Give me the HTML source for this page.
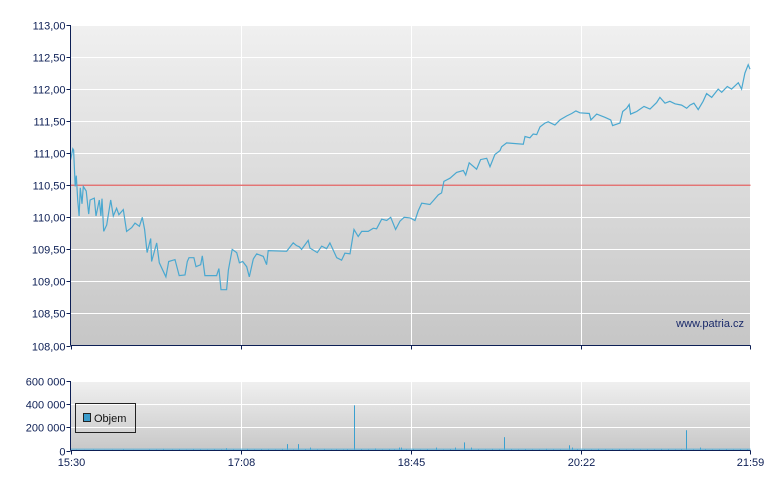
<!DOCTYPE html>
<html><head><meta charset="utf-8"><style>
body{margin:0;background:#fff;}
svg{display:block;font-family:"Liberation Sans",sans-serif;}
</style></head><body>
<svg id="c" width="780" height="490" viewBox="0 0 780 490">
<defs>
<linearGradient id="g1" x1="0" y1="0" x2="0" y2="1"><stop offset="0" stop-color="#f0f0f0"/><stop offset="1" stop-color="#c6c6c6"/></linearGradient>
<linearGradient id="g2" x1="0" y1="0" x2="0" y2="1"><stop offset="0" stop-color="#f0f0f0"/><stop offset="1" stop-color="#c8c8c8"/></linearGradient>
</defs>
<rect x="71" y="25" width="679" height="321" fill="url(#g1)"/>
<rect x="71" y="381" width="679" height="69" fill="url(#g2)"/>
<g id="grid"></g>
<line id="ref" stroke="#e06060" stroke-width="1.2"/>
<polyline id="price" fill="none" stroke="#4aa8d0" stroke-width="1.2"/>
<g id="vol"></g>
<g id="axes"></g>
<text x="744" y="327" text-anchor="end" font-size="11" fill="#1a2a6a">www.patria.cz</text>
<g>
<rect x="75.5" y="403.5" width="60" height="29" fill="none" stroke="#222" stroke-width="1"/>
<rect x="83.5" y="413.5" width="7" height="8" fill="#3a9ccc" stroke="#222" stroke-width="1"/>
<text x="94" y="422" font-size="11" fill="#111">Objem</text>
</g>
</svg>
<script>
const xTicks=["15:30","17:08","18:45","20:22","21:59"];
const yTicks=[108,108.5,109,109.5,110,110.5,111,111.5,112,112.5,113];
const vTicks=[0,200000,400000,600000];
const refPrice=110.5;
const priceMin=[0.1,1.3,1.8,2.7,3.3,4.1,4.9,5.6,6.6,7.3,9.0,10.4,11.2,13.6,14.6,16.5,17.4,18.0,19.0,20.7,23.0,24.5,26.4,27.7,30.2,32.1,35.0,36.9,39.4,41.1,42.4,43.8,45.9,46.4,49.3,50.8,54.6,56.2,59.8,62.2,65.5,66.8,67.8,70.6,71.8,74.5,75.4,76.9,83.6,84.9,86.1,89.3,90.3,92.5,95.1,96.6,98.5,100.8,102.3,104.6,106.5,110.3,112.2,113.1,123.7,126.5,127.4,129.2,130.9,132.2,136.0,137.0,141.2,143.7,146.5,148.4,152.3,155.1,157.0,159.9,162.2,164.6,166.6,170.3,173.2,175.1,178.0,180.9,183.2,186.0,188.5,190.9,194.2,197.1,198.9,200.9,205.6,207.9,210.4,212.3,213.6,217.1,220.9,224.7,226.1,228.1,232.3,234.6,238.1,240.0,242.8,245.7,246.6,249.5,259.0,260.0,262.8,264.7,266.7,268.6,271.4,273.3,277.1,280.0,283.8,286.7,289.1,291.4,296.8,297.7,301.0,305.7,309.0,310.1,314.3,315.9,318.1,319.6,320.4,323.9,328.1,331.5,335.3,337.2,340.1,342.9,345.8,349.6,352.5,354.4,356.6,359.1,361.9,363.9,366.8,370.5,372.5,375.7,378.2,382.0,383.9,385.8,387.7,388.7];
const priceVal=[110.90,111.07,111.05,110.48,110.65,110.27,110.02,110.46,110.21,110.48,110.41,110.05,110.27,110.30,110.02,110.27,110.02,110.29,109.78,109.88,110.27,110.02,110.14,110.04,110.12,109.78,109.84,109.91,109.86,110.00,109.81,109.45,109.67,109.31,109.60,109.29,109.07,109.31,109.34,109.09,109.10,109.31,109.37,109.37,109.23,109.26,109.40,109.09,109.09,109.20,108.87,108.87,109.18,109.50,109.45,109.29,109.31,109.23,109.07,109.35,109.43,109.39,109.26,109.48,109.47,109.57,109.60,109.56,109.54,109.50,109.64,109.52,109.45,109.55,109.51,109.60,109.37,109.33,109.44,109.43,109.81,109.70,109.78,109.78,109.83,109.82,109.97,109.95,110.00,109.81,109.94,110.00,109.99,109.95,110.10,110.22,110.20,110.27,110.35,110.38,110.56,110.61,110.70,110.73,110.66,110.85,110.75,110.90,110.92,110.79,110.98,111.04,111.10,111.16,111.14,111.26,111.24,111.30,111.29,111.41,111.47,111.49,111.44,111.52,111.58,111.62,111.66,111.63,111.62,111.52,111.61,111.56,111.52,111.43,111.47,111.65,111.70,111.76,111.61,111.65,111.73,111.69,111.79,111.87,111.78,111.81,111.77,111.75,111.70,111.75,111.78,111.68,111.81,111.93,111.87,112.00,111.95,112.04,112.00,112.10,112.00,112.25,112.38,112.31];
const volMin=[3,8,13,19,24,30,36,45,49,53,58,62,66,70,74,78,82,86,89,93,97,101,105,109,113,117,121,124,127,130,134,137,141,145,149,152,156,158,162,166,170,174,178,182,185,188,189,192,196,200,204,209,213,217,220,225,229,233,237,241,245,248,252,256,260,264,268,272,276,280,285,287,290,294,298,302,306,310,314,318,322,326,330,334,338,342,346,349,352,356,360,363,367,371,375,379,383,387];
const volVal=[8000,6000,9000,5000,7000,12000,6000,10000,8000,14000,9000,11000,7000,13000,10000,8000,12000,9000,20000,11000,7000,15000,9000,12000,10000,8000,14000,55000,9000,55000,12000,25000,10000,14000,8000,11000,9000,12000,390000,13000,10000,18000,9000,12000,11000,25000,25000,10000,14000,8000,12000,25000,9000,13000,25000,70000,25000,11000,9000,14000,10000,115000,12000,9000,13000,10000,8000,15000,11000,9000,45000,25000,12000,10000,9000,14000,11000,10000,13000,8000,12000,9000,11000,10000,14000,12000,9000,12000,175000,11000,25000,12000,9000,10000,13000,9000,12000,11000];

const NS="http://www.w3.org/2000/svg";
const L=70.5,R=750.5,T=25,B=345.5,VT=381,VB=450.5,TMAX=389;
const xs=m=>L+m/TMAX*(R-L);
const ys=p=>B-(p-108)/5*(B-T);
const vy=v=>VB-v/600000*(VB-VT);
function mk(tag,attrs,parent){const e=document.createElementNS(NS,tag);for(const k in attrs)e.setAttribute(k,attrs[k]);parent.appendChild(e);return e;}
const grid=document.getElementById('grid'),axes=document.getElementById('axes'),vol=document.getElementById('vol');
const AX="#0d1f55";
yTicks.forEach(t=>{const y=Math.round(ys(t))+0.5;
 if(t>108){const g=mk('line',{x1:L,x2:R,y1:y,y2:y,stroke:'#fff','stroke-width':1},grid);
 
 }
 const tk=mk('line',{x1:L-4,x2:L,y1:y,y2:y,stroke:AX},axes);
 
 
 const tx=mk('text',{x:L-5,y:y+4,'text-anchor':'end','font-size':11,fill:AX},axes);
 tx.textContent=t.toFixed(2).replace('.',',');
 
 
});
vTicks.forEach(t=>{const y=Math.round(vy(t))+0.5;
 if(t>0){const g=mk('line',{x1:L,x2:R,y1:y,y2:y,stroke:'#fff'},grid);
 
 }
 const tk=mk('line',{x1:L-4,x2:L,y1:y,y2:y,stroke:AX},axes);
 
 
 const tx=mk('text',{x:L-5,y:y+4,'text-anchor':'end','font-size':11,fill:AX},axes);
 tx.textContent=t===0?'0':(t/1000)+' 000';
 
 
});
xTicks.forEach((t,i)=>{const x=Math.round(L+i*(R-L)/(xTicks.length-1))+0.5-(i==4?1:0);
 if(i>0&&i<xTicks.length-1){[[T,B],[VT,VB]].forEach(r=>{const g=mk('line',{x1:x,x2:x,y1:r[0],y2:r[1],stroke:'#fff'},grid);
 
 });}
 [B,VB].forEach(yb=>{const tk=mk('line',{x1:x,x2:x,y1:yb,y2:yb+4,stroke:AX},axes);
 
 });
 const tx=mk('text',{x:x,y:466,'text-anchor':'middle','font-size':11,fill:AX},axes);
 tx.textContent=t;
 
 
});
[[L,T,L,B],[L,B,R,B],[L,VT,L,VB],[L,VB,R,VB]].forEach(a=>{const e=mk('line',{x1:a[0],y1:a[1],x2:a[2],y2:a[3],stroke:AX,'stroke-width':1},axes);
 
 });
const ref=document.getElementById('ref');
ref.setAttribute('x1',L);ref.setAttribute('x2',R);ref.setAttribute('y1',ys(refPrice));ref.setAttribute('y2',ys(refPrice));
document.getElementById('price').setAttribute('points',priceMin.map((m,i)=>xs(m).toFixed(1)+','+ys(priceVal[i]).toFixed(1)).join(' '));
volMin.forEach((m,i)=>{const x=Math.round(xs(m));const y=vy(volVal[i]);
 const b=mk('rect',{x:x,y:y,width:1,height:VB-y,fill:'#3aa0d0'},vol);
 
 });
const base=mk('rect',{x:L,y:VB-2,width:R-L,height:1.5,fill:'#5ab0d8',opacity:0.7},vol);


</script>
</body></html>
